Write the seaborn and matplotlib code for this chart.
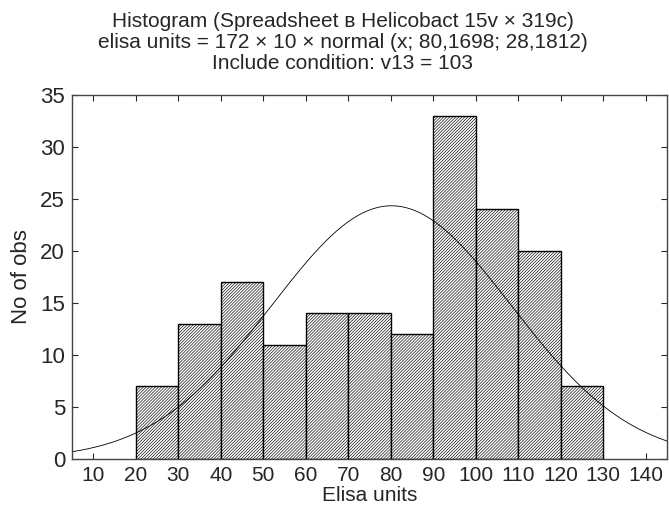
# histogram of elisa units with fitted normal curve

import numpy as np
import pandas as pd
import matplotlib
matplotlib.use('Agg')
import matplotlib.pyplot as plt
import seaborn as sns

# bin edges and counts
bin_edges = [20, 30, 40, 50, 60, 70, 80, 90, 100, 110, 120, 130]
counts = [7, 13, 17, 11, 14, 14, 12, 33, 24, 20, 7]
n_obs = 172
bin_width = 10
mean_fit = 80.1698
sd_fit = 28.1812

x_ticks = list(range(10, 150, 10))
y_ticks = list(range(0, 40, 5))

sns.set_style('ticks')
plt.rcParams['font.family'] = ['Liberation Sans', 'DejaVu Sans']
plt.rcParams['hatch.linewidth'] = 0.45
plt.rcParams['hatch.color'] = '#222222'
plt.rcParams['xtick.direction'] = 'in'
plt.rcParams['ytick.direction'] = 'in'

df = pd.DataFrame({'mid': [(a + b) / 2 for a, b in zip(bin_edges[:-1], bin_edges[1:])],
                   'n': counts})

fig = plt.figure(figsize=(6.69, 5.07), dpi=100)
ax = fig.add_axes([0.1076, 0.0947, 0.8894, 0.7179])

sns.histplot(data=df, x='mid', weights='n', bins=bin_edges, ax=ax,
             color='white', edgecolor='black', linewidth=1.0, alpha=1)
for p in ax.patches:
    p.set_hatch('/' * 11)

# normal fit  172 * 10 * normal(x; mean, sd)
xs = np.linspace(5, 145, 400)
ys = n_obs * bin_width * np.exp(-0.5 * ((xs - mean_fit) / sd_fit) ** 2) / (sd_fit * np.sqrt(2 * np.pi))
sns.lineplot(x=xs, y=ys, ax=ax, color='black', linewidth=0.6)

ax.set_xlim(5, 145)
ax.set_ylim(0, 35)
ax.set_xticks(x_ticks)
ax.set_yticks(y_ticks)
ax.tick_params(axis='x', labelsize=15, top=True, length=4, width=0.8, pad=5)
ax.tick_params(axis='y', labelsize=16, right=True, length=4, width=0.8, pad=5)
for s in ax.spines.values():
    s.set_linewidth(1.0)
    s.set_color('#444444')

ax.set_xlabel('Elisa units', fontsize=15, labelpad=1)
ax.set_ylabel('No of obs', fontsize=16, labelpad=6)
fig.suptitle('Histogram (Spreadsheet в Helicobact 15v × 319c)\n'
             'elisa units = 172 × 10 × normal (x; 80,1698; 28,1812)\n'
             'Include condition: v13 = 103',
             fontsize=15, y=0.977, x=0.512, va='top', linespacing=1.15)

fig.savefig('out.png', dpi=100)
